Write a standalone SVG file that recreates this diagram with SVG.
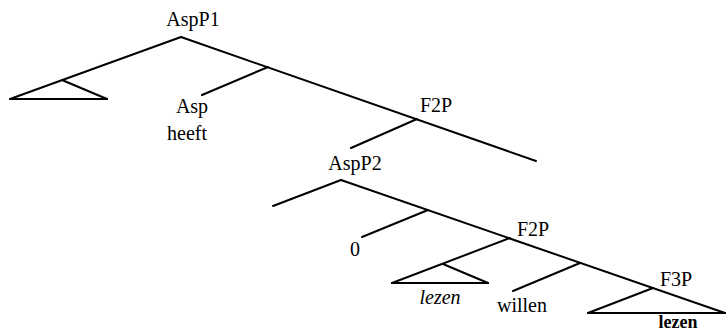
<svg xmlns="http://www.w3.org/2000/svg" width="726" height="332" viewBox="0 0 726 332">
<style>
.e{stroke:#000;stroke-width:2;fill:none;stroke-linecap:round}
text{font-family:"Liberation Serif","Times New Roman",serif;font-size:20px;fill:#000;text-anchor:middle}
.it{font-style:italic}
.b{font-weight:bold}
</style>
<rect width="726" height="332" fill="#fff"/>
<g id="connectors">
<line class="e" x1="181" y1="37" x2="10" y2="99"/>
<line class="e" x1="62" y1="80" x2="107" y2="99"/>
<line class="e" x1="10" y1="99" x2="107" y2="99"/>
<line class="e" x1="181" y1="37" x2="536" y2="161"/>
<line class="e" x1="268" y1="67" x2="202" y2="95"/>
<line class="e" x1="417" y1="119" x2="351" y2="148"/>
<line class="e" x1="341" y1="180" x2="273" y2="206"/>
<line class="e" x1="341" y1="180" x2="725" y2="313"/>
<line class="e" x1="428" y1="210" x2="362" y2="237"/>
<line class="e" x1="510" y1="238" x2="392" y2="283"/>
<line class="e" x1="443" y1="264" x2="488" y2="283"/>
<line class="e" x1="392" y1="283" x2="488" y2="283"/>
<line class="e" x1="580" y1="263" x2="513" y2="291"/>
<line class="e" x1="653" y1="288" x2="588" y2="313"/>
<line class="e" x1="588" y1="313" x2="725" y2="313"/>
</g>
<g id="AspP1"><text x="193" y="26">AspP1</text></g>
<g id="Asp"><text x="192" y="113">Asp</text><text x="187" y="140">heeft</text></g>
<g id="F2P-1"><text x="436" y="112">F2P</text></g>
<g id="AspP2"><text x="355" y="170">AspP2</text></g>
<g id="zero"><text x="355" y="256">0</text></g>
<g id="F2P-2"><text x="533" y="236">F2P</text></g>
<g id="lezen-1"><text class="it" x="440" y="304">lezen</text></g>
<g id="willen"><text x="522" y="312">willen</text></g>
<g id="F3P"><text x="676" y="286">F3P</text></g>
<g id="lezen-2"><text class="b" x="678" y="328" style="font-size:18px">lezen</text></g>
</svg>
